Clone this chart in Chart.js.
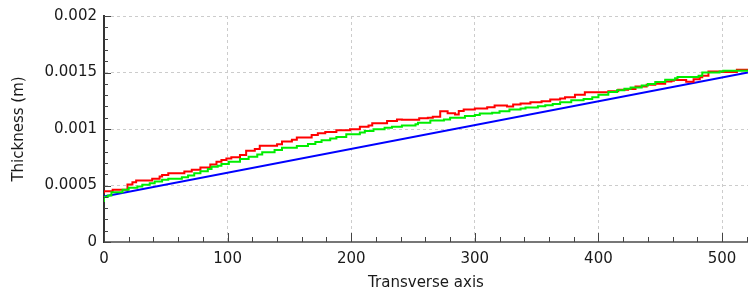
<!DOCTYPE html>
<html>
<head>
<meta charset="utf-8">
<script src="https://cdn.jsdelivr.net/npm/chart.js@4/dist/chart.umd.min.js"></script>
<style>
	body { margin: 0; background: #fff; }
	canvas { display: block; }
</style>
</head>
<body>
<canvas id="chart" width="748" height="293"></canvas>
<script>
// red series (step starts along the transverse axis)
const redX = [0, 7, 19, 23, 26, 39, 45, 47, 52, 65, 71, 78, 86, 91, 95, 99, 103, 110, 115, 122, 126, 140, 144, 152, 156, 168, 173, 179, 188, 199,
	207, 214, 217, 229, 237, 241, 255, 262, 266, 272, 278, 284, 287, 291, 300, 310, 316, 326, 331, 337, 345, 354, 361, 369, 373, 381, 389, 408, 416, 424,
	430, 439, 446, 454, 459, 461, 471, 477, 482, 484, 489, 500, 512, 519, 521];
const redY = [0.000432, 0.000450, 0.000462, 0.000509, 0.000529, 0.000544, 0.000559, 0.000579, 0.000594, 0.000608, 0.000623, 0.000640, 0.000660, 0.000685, 0.000710,
	0.000725, 0.000740, 0.000749, 0.000770, 0.000807, 0.000822, 0.000851, 0.000866, 0.000889, 0.000904, 0.000924, 0.000947, 0.000962, 0.000974, 0.000988,
	0.000997, 0.001020, 0.001032, 0.001050, 0.001070, 0.001085, 0.001082, 0.001095, 0.001100, 0.001108, 0.001158, 0.001140, 0.001129, 0.001160, 0.001173,
	0.001181, 0.001193, 0.001208, 0.001200, 0.001217, 0.001225, 0.001237, 0.001246, 0.001261, 0.001269, 0.001281, 0.001304, 0.001325, 0.001333, 0.001348,
	0.001355, 0.001377, 0.001392, 0.001400, 0.001421, 0.001427, 0.001433, 0.001418, 0.001441, 0.001459, 0.001471, 0.001509, 0.001505, 0.001524, 0.001524];

// green series
const greenX = [0, 3, 6, 15, 20, 27, 31, 37, 41, 47, 52, 63, 68, 73, 78, 84, 87, 92, 95, 101, 110, 117, 124, 128, 138, 144, 156, 165, 171, 176,
	183, 188, 196, 207, 211, 218, 227, 233, 241, 252, 254, 264, 275, 280, 292, 300, 304, 314, 320, 328, 337, 341, 351, 357, 363, 369, 378, 388, 395, 400,
	408, 415, 421, 426, 435, 440, 446, 454, 462, 464, 481, 484, 498, 501, 517, 521];
const greenY = [0.000354, 0.000398, 0.000412, 0.000441, 0.000462, 0.000480, 0.000491, 0.000506, 0.000520, 0.000535, 0.000550, 0.000559, 0.000573, 0.000588, 0.000608,
	0.000626, 0.000646, 0.000667, 0.000675, 0.000690, 0.000710, 0.000734, 0.000755, 0.000775, 0.000795, 0.000815, 0.000835, 0.000850, 0.000868, 0.000885,
	0.000900, 0.000915, 0.000930, 0.000953, 0.000968, 0.000982, 0.000997, 0.001012, 0.001020, 0.001030, 0.001041, 0.001055, 0.001076, 0.001085, 0.001099,
	0.001114, 0.001123, 0.001137, 0.001144, 0.001158, 0.001173, 0.001181, 0.001190, 0.001202, 0.001210, 0.001222, 0.001237, 0.001254, 0.001266, 0.001281,
	0.001304, 0.001327, 0.001342, 0.001357, 0.001368, 0.001386, 0.001398, 0.001415, 0.001436, 0.001450, 0.001460, 0.001471, 0.001500, 0.001509, 0.001515, 0.001515];

// blue series (straight)
const blueX = [0, 521];
const blueY = [0.000403, 0.001500];

const xTickLabels = ['0', '100', '200', '300', '400', '500'];
const yTickLabels = ['0', '0.0005', '0.001', '0.0015', '0.002'];

function points(xs, ys) {
	return xs.map((x, i) => ({x: x, y: ys[i]}));
}

Chart.defaults.font.family = 'DejaVu Sans';
Chart.defaults.font.size = 15;
Chart.defaults.color = '#1a1a1a';

// small inside tick marks, majors longer
const tickMarks = {
	id: 'tickMarks',
	afterDatasetsDraw(chart) {
		const {ctx, scales: {x, y}} = chart;
		ctx.save();
		ctx.strokeStyle = '#444';
		ctx.lineWidth = 1;
		ctx.beginPath();
		for (let i = 0; i <= 20; i++) {
			let py = Math.round(y.getPixelForValue(i * 0.0001)) + 0.5;
			let len = (i % 5 == 0) ? 7 : 4;
			ctx.moveTo(x.left, py);
			ctx.lineTo(x.left + len, py);
		}
		for (let i = 0; i * 20 <= x.max; i++) {
			let px = Math.round(x.getPixelForValue(i * 20)) + 0.5;
			let len = (i % 5 == 0) ? 9 : 5;
			ctx.moveTo(px, y.bottom);
			ctx.lineTo(px, y.bottom - len);
		}
		ctx.stroke();
		ctx.restore();
	}
};

new Chart(document.getElementById('chart'), {
	type: 'line',
	data: {
		datasets: [
			{
				data: points(greenX, greenY),
				borderColor: '#00ee00',
				borderWidth: 2,
				stepped: 'after',
				pointRadius: 0,
				fill: false,
			},
			{
				data: points(redX, redY),
				borderColor: '#ff0000',
				borderWidth: 2,
				stepped: 'after',
				pointRadius: 0,
				fill: false,
			},
			{
				data: points(blueX, blueY),
				borderColor: '#0000ff',
				borderWidth: 2,
				pointRadius: 0,
				fill: false,
			},
		]
	},
	options: {
		responsive: false,
		animation: false,
		layout: {padding: {top: 14, right: 0, left: 0, bottom: 0}},
		plugins: {
			legend: {display: false},
			tooltip: {enabled: false},
		},
		scales: {
			x: {
				type: 'linear',
				min: 0,
				max: 521,
				afterFit: (scale) => { scale.height = 51; },
				ticks: {
					stepSize: 100,
					includeBounds: false,
					padding: 8,
					maxRotation: 0,
					callback: (value, index) => xTickLabels[index],
				},
				grid: {
					color: '#cccccc',
					lineWidth: 1,
					drawTicks: false,
				},
				border: {color: '#777', width: 2, dash: [3, 3]},
				title: {
					display: true,
					text: 'Transverse axis',
					padding: {top: 0, bottom: 1},
				},
			},
			y: {
				min: 0,
				max: 0.002,
				afterFit: (scale) => { scale.width = 104; },
				ticks: {
					stepSize: 0.0005,
					padding: 7,
					callback: (value, index) => yTickLabels[index],
				},
				grid: {
					color: '#cccccc',
					lineWidth: 1,
					drawTicks: false,
				},
				border: {color: '#333', width: 2, dash: [3, 3]},
				title: {
					display: true,
					text: 'Thickness (m)',
					padding: {top: 10, bottom: 0},
				},
			},
		}
	},
	plugins: [tickMarks],
});
</script>
</body>
</html>
